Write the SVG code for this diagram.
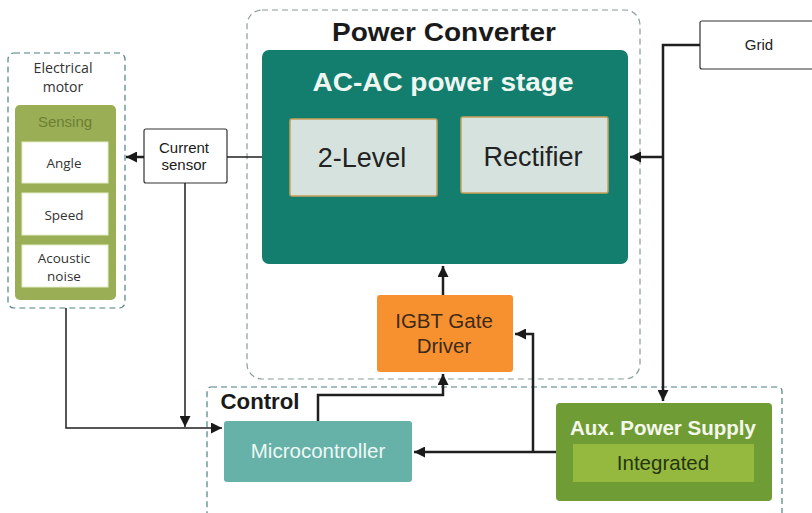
<svg xmlns="http://www.w3.org/2000/svg" width="812" height="513" viewBox="0 0 812 513">
<defs>
<marker id="a" viewBox="0 0 10 10" refX="10" refY="5" markerWidth="11" markerHeight="11" orient="auto" markerUnits="userSpaceOnUse">
<path d="M0,0 L10,5 L0,10 z" fill="#1a1a1a"/>
</marker>
</defs>
<style>
text{font-family:"Liberation Sans",Arial,sans-serif;text-anchor:middle}
.dash{fill:none;stroke:#4d8080;stroke-width:1.2;stroke-dasharray:6,4}
.dashl{fill:none;stroke:#8a9a9a;stroke-width:1.2;stroke-dasharray:6,4}
.wb{fill:#fff;stroke:#333;stroke-width:1.2}
.sb{fill:#fff;stroke:#e4ecc8;stroke-width:1}
.st{font-family:"Open Sans","DejaVu Sans",sans-serif;font-size:13.5px;fill:#333}
.ln{fill:none;stroke:#1f1f1f;stroke-width:1.5}
.lnb{fill:none;stroke:#1f1f1f;stroke-width:2.5}
.inner{fill:#d5e2de;stroke:#c9a05a;stroke-width:1.5}
</style>
<rect width="812" height="513" fill="#fff"/>

<g id="power-converter">
<rect class="dashl" x="247" y="10" width="393" height="369" rx="15"/>
<text x="444" y="41" font-size="25" font-weight="bold" fill="#1a1a1a" textLength="224" lengthAdjust="spacingAndGlyphs">Power Converter</text>
</g>

<g id="control">
<rect class="dash" x="207" y="387" width="575" height="140" rx="4"/>
<text x="260" y="409" font-size="22" font-weight="bold" fill="#1a1a1a" textLength="79" lengthAdjust="spacingAndGlyphs">Control</text>
</g>

<g id="electrical-motor">
<rect class="dash" x="8" y="53" width="117" height="255" rx="6"/>
<text class="st" x="63" y="73" textLength="59" lengthAdjust="spacingAndGlyphs" style="font-size:14px">Electrical</text>
<text class="st" x="63" y="92" style="font-size:14px">motor</text>
<rect x="15" y="105" width="101" height="195" rx="5" fill="#9aae55"/>
<text x="65" y="127" font-size="15" fill="#6d7f35" font-family="'Open Sans','DejaVu Sans',sans-serif">Sensing</text>
<g id="angle"><rect class="sb" x="22" y="142" width="86" height="41"/><text class="st" x="64" y="168">Angle</text></g>
<g id="speed"><rect class="sb" x="22" y="193" width="86" height="42"/><text class="st" x="64" y="220">Speed</text></g>
<g id="acoustic-noise"><rect class="sb" x="22" y="245" width="86" height="42"/><text class="st" x="64" y="263">Acoustic</text><text class="st" x="64" y="281">noise</text></g>
</g>

<g id="current-sensor">
<rect class="wb" x="144" y="129" width="83" height="54" rx="2"/>
<text x="184" y="153" font-size="15" fill="#1a1a1a">Current</text>
<text x="184" y="170" font-size="15" fill="#1a1a1a">sensor</text>
</g>

<g id="ac-ac-power-stage">
<rect x="262" y="50" width="366" height="214" rx="7" fill="#137e6d"/>
<text x="443" y="91" font-size="26" font-weight="bold" fill="#eef6f2" textLength="261" lengthAdjust="spacingAndGlyphs">AC-AC power stage</text>
<g id="two-level"><rect class="inner" x="290" y="119" width="147" height="77" rx="2"/><text x="362" y="167" font-size="27" fill="#222">2-Level</text></g>
<g id="rectifier"><rect class="inner" x="461" y="117" width="147" height="76" rx="2"/><text x="533" y="166" font-size="27" fill="#222">Rectifier</text></g>
</g>

<g id="grid">
<rect class="wb" x="700" y="21" width="120" height="48" rx="2"/>
<text x="759" y="50" font-size="15" fill="#222">Grid</text>
</g>

<g id="igbt-gate-driver">
<rect x="377" y="295" width="136" height="77" rx="3" fill="#f7912f"/>
<text x="444" y="328" font-size="20.5" fill="#3d2a18">IGBT Gate</text>
<text x="444" y="353" font-size="20.5" fill="#3d2a18">Driver</text>
</g>

<g id="microcontroller">
<rect x="224" y="421" width="188" height="61" rx="3" fill="#67b2a8"/>
<text x="318" y="458" font-size="20.5" fill="#eef8f6">Microcontroller</text>
</g>

<g id="aux-power-supply">
<rect x="556" y="403" width="216" height="98" rx="4" fill="#6f9c35"/>
<text x="663" y="435" font-size="20" font-weight="bold" fill="#f4f8ea" textLength="186" lengthAdjust="spacingAndGlyphs">Aux. Power Supply</text>
<rect x="573" y="444" width="181" height="38" fill="#95b93f"/>
<text x="663" y="470" font-size="20.5" fill="#263510">Integrated</text>
</g>

<g id="connectors">
<path class="ln" d="M262,157 H227"/>
<path class="lnb" d="M144,157 H126" marker-end="url(#a)"/>
<path class="ln" d="M185,183 V427" marker-end="url(#a)"/>
<path class="ln" d="M66,308 V428 H222" marker-end="url(#a)"/>
<path class="lnb" d="M700,45 H663 V401" marker-end="url(#a)"/>
<path class="lnb" d="M663,157 H630" marker-end="url(#a)"/>
<path class="lnb" d="M443,295 V266" marker-end="url(#a)"/>
<path class="lnb" d="M318,421 V395 H443 V374" marker-end="url(#a)"/>
<path class="lnb" d="M556,452 H414" marker-end="url(#a)"/>
<path class="lnb" d="M533,452 V334 H515" marker-end="url(#a)"/>
</g>
</svg>
